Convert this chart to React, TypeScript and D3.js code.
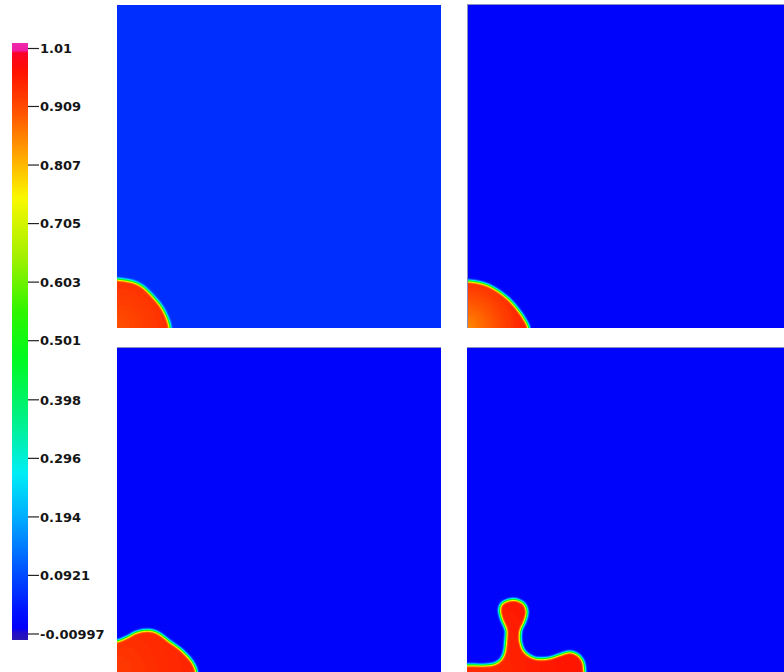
import React from 'react';
import * as d3 from 'd3';

const W = 784;
const H = 672;

// Colour bar ticks
const tickValues = [1.01, 0.909, 0.807, 0.705, 0.603, 0.501, 0.398, 0.296, 0.194, 0.0921, -0.00997];
const tickLabels = ['1.01', '0.909', '0.807', '0.705', '0.603', '0.501', '0.398', '0.296', '0.194', '0.0921', '-0.00997'];

// Field range spanned by the bar (including the out-of-range caps)
const fieldMin = -0.0204;
const fieldMax = 1.0196;

// Colour map: field value -> colour
const cmapValues = [-0.0204, -0.008, 0.0, 0.03, 0.09, 0.19, 0.27, 0.36, 0.47, 0.55, 0.65, 0.75, 0.82, 0.9, 0.97, 1.003, 1.006, 1.0196];
const cmapColors = [
  'rgb(42,22,178)', 'rgb(35,14,200)', 'rgb(0,0,250)', 'rgb(0,18,255)', 'rgb(0,72,255)',
  'rgb(0,170,255)', 'rgb(0,238,245)', 'rgb(0,240,140)', 'rgb(0,250,30)', 'rgb(45,245,0)',
  'rgb(165,240,0)', 'rgb(250,248,0)', 'rgb(255,170,0)', 'rgb(255,82,0)', 'rgb(255,18,0)',
  'rgb(250,0,40)', 'rgb(238,30,160)', 'rgb(240,40,175)',
];

// Droplet interfaces for the four time frames, in domain units
// (u along the bottom wall, v up from it)
const frame0Outline: [number, number][] = [
  [0, 0.152], [0.049, 0.144], [0.078, 0.13], [0.102, 0.108], [0.138, 0.066], [0.158, 0.025], [0.164, 0],
];
const frame1Outline: [number, number][] = [
  [0, 0.146], [0.05, 0.138], [0.102, 0.112], [0.143, 0.076], [0.174, 0.035], [0.189, 0.008], [0.191, 0],
];
const frame2Outline: [number, number][] = [
  [0, 0.096], [0.029, 0.107], [0.06, 0.123], [0.096, 0.129], [0.127, 0.121], [0.164, 0.094],
  [0.2, 0.068], [0.225, 0.042], [0.241, 0.017], [0.246, 0],
];
const frame3Outline: [number, number][] = [
  [0, 0.022], [0.081, 0.025], [0.102, 0.037], [0.114, 0.058], [0.119, 0.098], [0.12, 0.129],
  [0.107, 0.16], [0.1, 0.191], [0.107, 0.211], [0.143, 0.224], [0.176, 0.211], [0.186, 0.186],
  [0.179, 0.155], [0.167, 0.129], [0.166, 0.093], [0.179, 0.062], [0.205, 0.045], [0.246, 0.042],
  [0.287, 0.054], [0.318, 0.062], [0.344, 0.052], [0.359, 0.032], [0.364, 0],
];
const frameOutlines = [frame0Outline, frame1Outline, frame2Outline, frame3Outline];

// Field values per frame: surrounding phase, droplet core (near the corner) and droplet rim
const backgroundValues = [0.06, 0.008, 0.008, 0.008];
const coreValues = [0.9, 0.85, 0.925, 0.94];
const rimValues = [0.95, 0.97, 0.955, 0.965];
const coreRadii = [0.2, 0.2, 0.26, 0.3];

const panels = [
  { x: 117, y: 5, w: 324, h: 323 },
  { x: 467, y: 4, w: 324, h: 324 },
  { x: 117, y: 347, w: 324, h: 325 },
  { x: 467, y: 347, w: 324, h: 325 },
];

export default function App() {
  const cmap = d3
    .scaleLinear<string>()
    .domain(cmapValues)
    .range(cmapColors)
    .interpolate(d3.interpolateRgb)
    .clamp(true);
  const toGray = d3.scaleLinear().domain([fieldMin, fieldMax]).range([0, 1]).clamp(true);
  const grayOf = (v: number) => {
    const g = Math.round(toGray(v) * 255);
    return `rgb(${g},${g},${g})`;
  };

  // Lookup tables turning a grey field into colour-mapped pixels
  const N = 256;
  const table = d3.range(N).map((k) => d3.rgb(cmap(toGray.invert(k / (N - 1)))));
  const tR = table.map((c) => (c.r / 255).toFixed(4)).join(' ');
  const tG = table.map((c) => (c.g / 255).toFixed(4)).join(' ');
  const tB = table.map((c) => (c.b / 255).toFixed(4)).join(' ');

  const barY = d3.scaleLinear().domain([-0.00997, 1.01]).range([634, 48.5]);
  const barTop = barY(fieldMax);
  const barBottom = barY(fieldMin);
  const barStops = d3.range(0, 401).map((k) => {
    const t = k / 400;
    return { offset: t, color: cmap(fieldMin + t * (fieldMax - fieldMin)) };
  });

  const ext = 0.05;

  return (
    <svg
      width={W}
      height={H}
      style={{ position: 'absolute', left: 0, top: 0, background: '#fff' }}
      xmlns="http://www.w3.org/2000/svg"
    >
      <defs>
        <filter
          id="fieldmap"
          filterUnits="userSpaceOnUse"
          x={0}
          y={0}
          width={W}
          height={H}
          colorInterpolationFilters="sRGB"
        >
          <feGaussianBlur stdDeviation={1.4} />
          <feComponentTransfer>
            <feFuncR type="table" tableValues={tR} />
            <feFuncG type="table" tableValues={tG} />
            <feFuncB type="table" tableValues={tB} />
          </feComponentTransfer>
        </filter>
        <linearGradient id="barGrad" x1="0" y1="1" x2="0" y2="0">
          {barStops.map((s, i) => (
            <stop key={i} offset={s.offset} stopColor={s.color} />
          ))}
        </linearGradient>
        {panels.map((p, i) => (
          <clipPath id={`clip${i}`} key={`c${i}`}>
            <rect x={p.x} y={p.y} width={p.w} height={p.h} />
          </clipPath>
        ))}
        {panels.map((p, i) => (
          <radialGradient
            id={`core${i}`}
            key={`g${i}`}
            gradientUnits="userSpaceOnUse"
            cx={p.x}
            cy={p.y + p.h}
            r={coreRadii[i] * p.w}
          >
            <stop offset={0} stopColor={grayOf(coreValues[i])} />
            <stop offset={1} stopColor={grayOf(rimValues[i])} />
          </radialGradient>
        ))}
      </defs>

      {panels.map((p, i) => {
        const sx = d3.scaleLinear().domain([0, 1]).range([p.x, p.x + p.w]);
        const sy = d3.scaleLinear().domain([0, 1]).range([p.y + p.h, p.y]);
        const pts = frameOutlines[i];
        const full: [number, number][] = [
          [-ext, pts[0][1]],
          ...pts,
          [pts[pts.length - 1][0], -ext],
        ];
        const line = d3
          .line<[number, number]>()
          .x((d) => sx(d[0]))
          .y((d) => sy(d[1]))
          .curve(d3.curveCatmullRom.alpha(0.5));
        const path = `${line(full)}L${sx(-ext)},${sy(-ext)}Z`;
        return (
          <g key={i} clipPath={`url(#clip${i})`}>
            <g filter="url(#fieldmap)">
              <rect x={p.x - 12} y={p.y - 12} width={p.w + 24} height={p.h + 24} fill={grayOf(backgroundValues[i])} />
              <path d={path} fill={`url(#core${i})`} />
            </g>
          </g>
        );
      })}

      {/* thin frame edges */}
      <line x1={467.5} y1={4} x2={467.5} y2={328} stroke="#8a8fc4" strokeWidth={1} />
      <line x1={467} y1={4.5} x2={784} y2={4.5} stroke="#8a8fc4" strokeWidth={1} />
      <line x1={117} y1={347.5} x2={441} y2={347.5} stroke="#8a8fc4" strokeWidth={1} />
      <line x1={467} y1={347.5} x2={784} y2={347.5} stroke="#8a8fc4" strokeWidth={1} />

      {/* colour bar */}
      <rect x={12} y={barTop} width={16} height={barBottom - barTop} fill="url(#barGrad)" />
      {tickValues.map((v, i) => (
        <g key={i}>
          <line x1={28} x2={39} y1={barY(v)} y2={barY(v)} stroke="#222" strokeWidth={1.2} />
          <text
            x={40}
            y={barY(v) + 4.7}
            fontFamily="'DejaVu Sans', 'Liberation Sans', sans-serif"
            fontWeight="bold"
            fontSize={13}
            fill="#151515"
          >
            {tickLabels[i]}
          </text>
        </g>
      ))}
    </svg>
  );
}
